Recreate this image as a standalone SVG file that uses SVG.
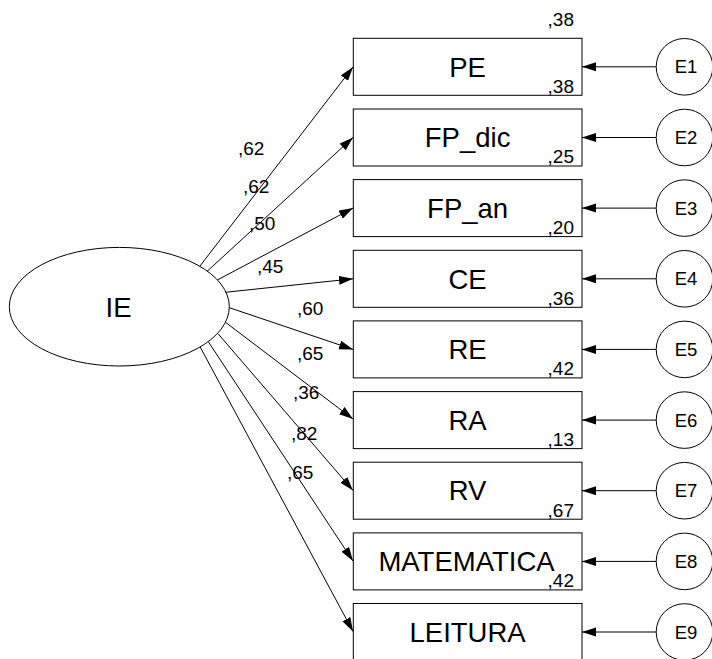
<svg xmlns="http://www.w3.org/2000/svg" width="712" height="659" viewBox="0 0 712 659">
<style>
  .box { fill: #fff; stroke: #000; stroke-width: 1; }
  .lat { fill: #fff; stroke: #000; stroke-width: 1; }
  .lbl { font-family: "Liberation Sans", Arial, sans-serif; font-size: 27.5px; text-anchor: middle; fill: #000; }
  .num { font-family: "Liberation Sans", Arial, sans-serif; font-size: 19px; fill: #000; }
  .r2 { text-anchor: end; }
  .elbl { font-family: "Liberation Sans", Arial, sans-serif; font-size: 18.5px; text-anchor: middle; fill: #000; }
  .con { stroke: #000; stroke-width: 1; fill: none; marker-end: url(#ah); }
</style>
<defs>
  <marker id="ah" markerUnits="userSpaceOnUse" markerWidth="15" markerHeight="10" refX="14" refY="4.5" orient="auto">
    <path d="M0,0 L14,4.5 L0,9 z" fill="#000"/>
  </marker>
</defs>
<rect width="712" height="659" fill="#fff"/>

<g id="connectors">
  <line class="con" x1="200" y1="266" x2="353" y2="67"/>
  <line class="con" x1="206.7" y1="271.7" x2="353" y2="137.5"/>
  <line class="con" x1="217.3" y1="280" x2="353" y2="208.1"/>
  <line class="con" x1="225.3" y1="292.3" x2="353" y2="278.8"/>
  <line class="con" x1="229.3" y1="307.7" x2="353" y2="349.4"/>
  <line class="con" x1="226" y1="322.7" x2="353" y2="419"/>
  <line class="con" x1="218.3" y1="334" x2="353" y2="490.5"/>
  <line class="con" x1="208.3" y1="341.7" x2="353" y2="561"/>
  <line class="con" x1="200" y1="346.7" x2="353" y2="631.5"/>

  <line class="con" x1="656" y1="66.8" x2="582" y2="66.8"/>
  <line class="con" x1="656" y1="137.5" x2="582" y2="137.5"/>
  <line class="con" x1="656" y1="208.1" x2="582" y2="208.1"/>
  <line class="con" x1="656" y1="278.8" x2="582" y2="278.8"/>
  <line class="con" x1="656" y1="349.4" x2="582" y2="349.4"/>
  <line class="con" x1="656" y1="420.1" x2="582" y2="420.1"/>
  <line class="con" x1="656" y1="490.7" x2="582" y2="490.7"/>
  <line class="con" x1="656" y1="561.4" x2="582" y2="561.4"/>
  <line class="con" x1="656" y1="632" x2="582" y2="632"/>

  <text class="num" x="238" y="155">,62</text>
  <text class="num" x="243" y="193">,62</text>
  <text class="num" x="249" y="230">,50</text>
  <text class="num" x="257" y="273">,45</text>
  <text class="num" x="297" y="315">,60</text>
  <text class="num" x="297" y="360">,65</text>
  <text class="num" x="293" y="399">,36</text>
  <text class="num" x="291" y="440">,82</text>
  <text class="num" x="287" y="479">,65</text>
</g>

<g id="IE">
  <ellipse class="lat" cx="119.3" cy="306.7" rx="110" ry="59.3"/>
  <text class="lbl" x="118.5" y="316.5">IE</text>
</g>

<g id="PE">
  <rect class="box" x="353.3" y="38.3" width="228.7" height="57"/>
  <text class="lbl" x="467.6" y="76.5">PE</text>
  <text class="num r2" x="574" y="26">,38</text>
  <text class="num r2" x="574" y="92.7">,38</text>
</g>
<g id="FP_dic">
  <rect class="box" x="353.3" y="109" width="228.7" height="57"/>
  <text class="lbl" x="467.6" y="147.2">FP_dic</text>
  <text class="num r2" x="574" y="163.4">,25</text>
</g>
<g id="FP_an">
  <rect class="box" x="353.3" y="179.6" width="228.7" height="57"/>
  <text class="lbl" x="467.6" y="217.8">FP_an</text>
  <text class="num r2" x="574" y="234">,20</text>
</g>
<g id="CE">
  <rect class="box" x="353.3" y="250.3" width="228.7" height="57"/>
  <text class="lbl" x="467.6" y="288.5">CE</text>
  <text class="num r2" x="574" y="304.7">,36</text>
</g>
<g id="RE">
  <rect class="box" x="353.3" y="320.9" width="228.7" height="57"/>
  <text class="lbl" x="467.6" y="359.1">RE</text>
  <text class="num r2" x="574" y="375.3">,42</text>
</g>
<g id="RA">
  <rect class="box" x="353.3" y="391.6" width="228.7" height="57"/>
  <text class="lbl" x="467.6" y="429.8">RA</text>
  <text class="num r2" x="574" y="446.2">,13</text>
</g>
<g id="RV">
  <rect class="box" x="353.3" y="462.2" width="228.7" height="57"/>
  <text class="lbl" x="467.6" y="500.4">RV</text>
  <text class="num r2" x="574" y="516.6">,67</text>
</g>
<g id="MATEMATICA">
  <rect class="box" x="353.3" y="532.9" width="228.7" height="57"/>
  <text class="lbl" x="466.5" y="571.1">MATEMATICA</text>
  <text class="num r2" x="574" y="587.3">,42</text>
</g>
<g id="LEITURA">
  <rect class="box" x="353.3" y="603.5" width="228.7" height="57"/>
  <text class="lbl" x="467.6" y="641.7">LEITURA</text>
</g>

<g id="E1"><circle class="lat" cx="684.5" cy="66.8" r="28.3"/><text class="elbl" x="686" y="73.4">E1</text></g>
<g id="E2"><circle class="lat" cx="684.5" cy="137.5" r="28.3"/><text class="elbl" x="686" y="144.1">E2</text></g>
<g id="E3"><circle class="lat" cx="684.5" cy="208.1" r="28.3"/><text class="elbl" x="686" y="214.7">E3</text></g>
<g id="E4"><circle class="lat" cx="684.5" cy="278.8" r="28.3"/><text class="elbl" x="686" y="285.4">E4</text></g>
<g id="E5"><circle class="lat" cx="684.5" cy="349.4" r="28.3"/><text class="elbl" x="686" y="356">E5</text></g>
<g id="E6"><circle class="lat" cx="684.5" cy="420.1" r="28.3"/><text class="elbl" x="686" y="426.7">E6</text></g>
<g id="E7"><circle class="lat" cx="684.5" cy="490.7" r="28.3"/><text class="elbl" x="686" y="497.3">E7</text></g>
<g id="E8"><circle class="lat" cx="684.5" cy="561.4" r="28.3"/><text class="elbl" x="686" y="568">E8</text></g>
<g id="E9"><circle class="lat" cx="684.5" cy="632" r="28.3"/><text class="elbl" x="686" y="638.6">E9</text></g>
</svg>
